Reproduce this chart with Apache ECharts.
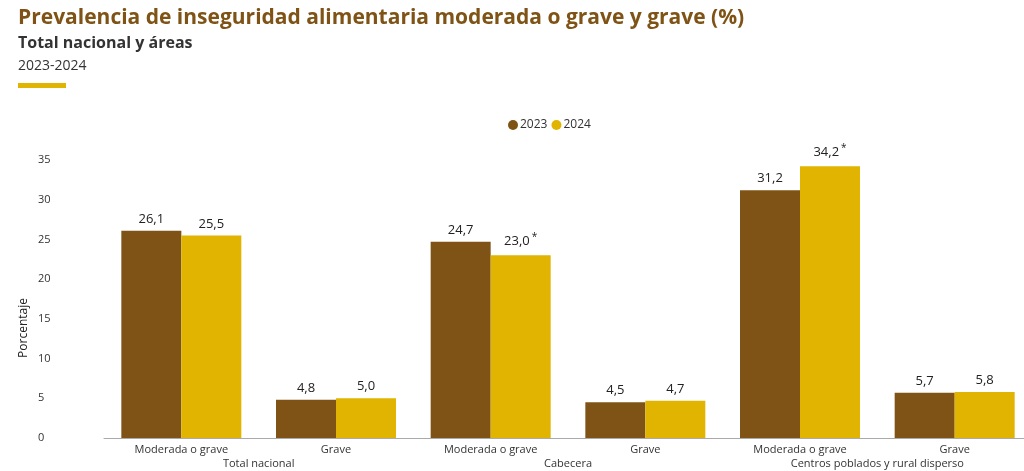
<!DOCTYPE html>
<html><head><meta charset="utf-8">
<script src="https://cdn.jsdelivr.net/npm/echarts@6/dist/echarts.min.js"></script>
<style>html,body{margin:0;padding:0;background:#fff;overflow:hidden}#c{width:1032px;height:471px}</style>
</head><body><div id="c"></div>
<script>
const categories = ["Moderada o grave","Grave","Moderada o grave","Grave","Moderada o grave","Grave"];
const areas = ["Total nacional","Cabecera","Centros poblados y rural disperso"];
const values2023 = [26.1,4.8,24.7,4.5,31.2,5.7];
const values2024 = [25.5,5.0,23.0,4.7,34.2,5.8];
const sig2024 = [false,false,true,false,true,false];
const fmt = v => v.toFixed(1).replace('.', ',');
const chart = echarts.init(document.getElementById('c'));
chart.setOption({
  animation:false,
  textStyle:{fontFamily:'Open Sans, Noto Sans, sans-serif'},
  graphic:[
    {type:'text',left:18,top:8,style:{text:'Prevalencia de inseguridad alimentaria moderada o grave y grave (%)',font:'bold 21px "Open Sans", sans-serif',fill:'#7F5315'}},
    {type:'text',left:18,top:35,style:{text:'Total nacional y áreas',font:'bold 16px "Open Sans", sans-serif',fill:'#333'}},
    {type:'text',left:18,top:59,style:{text:'2023-2024',font:'14px "Open Sans", sans-serif',fill:'#333'}},
    {type:'rect',left:18,top:83,shape:{width:48,height:5},style:{fill:'#E0B400'}},
    {type:'text',left:18,top:298,rotation:Math.PI/2,style:{text:'Porcentaje',font:'12px "Open Sans", sans-serif',fill:'#222',textAlign:'center'}}
  ],
  legend:{top:114,left:503,itemWidth:10,itemHeight:10,icon:'circle',itemGap:4,textStyle:{fontSize:12,color:'#333',padding:[0,0,0,-3]},data:['2023','2024']},
  grid:{left:104,top:160,right:0,bottom:33,containLabel:false},
  xAxis:[
    {type:'category',data:categories,axisLine:{lineStyle:{color:'#aaa'}},axisTick:{show:false},axisLabel:{fontSize:11,color:'#333',margin:6}},
    {type:'category',data:areas,position:'bottom',offset:14,axisLine:{show:false},axisTick:{show:false},axisLabel:{fontSize:11,color:'#333',margin:6}}
  ],
  yAxis:{type:'value',min:0,max:35,interval:5,splitLine:{show:false},axisLine:{show:false},axisTick:{show:false},axisLabel:{fontSize:11,color:'#333',margin:66,align:'left'}},
  series:[
    {name:'2023',type:'bar',barWidth:60,barGap:'0%',data:values2023,itemStyle:{color:'#7F5315'},
     label:{show:true,position:'top',fontSize:13,color:'#222',formatter:p=>fmt(p.value)}},
    {name:'2024',type:'bar',barWidth:60,barGap:'0%',data:values2024,itemStyle:{color:'#E0B400'},
     label:{show:true,position:'top',fontSize:13,color:'#222',
       formatter:p=>fmt(p.value)+(sig2024[p.dataIndex]?'{s|*}':''),
       rich:{s:{fontSize:10,verticalAlign:'top',padding:[0,0,8,2]}}}}
  ]
});
</script></body></html>
